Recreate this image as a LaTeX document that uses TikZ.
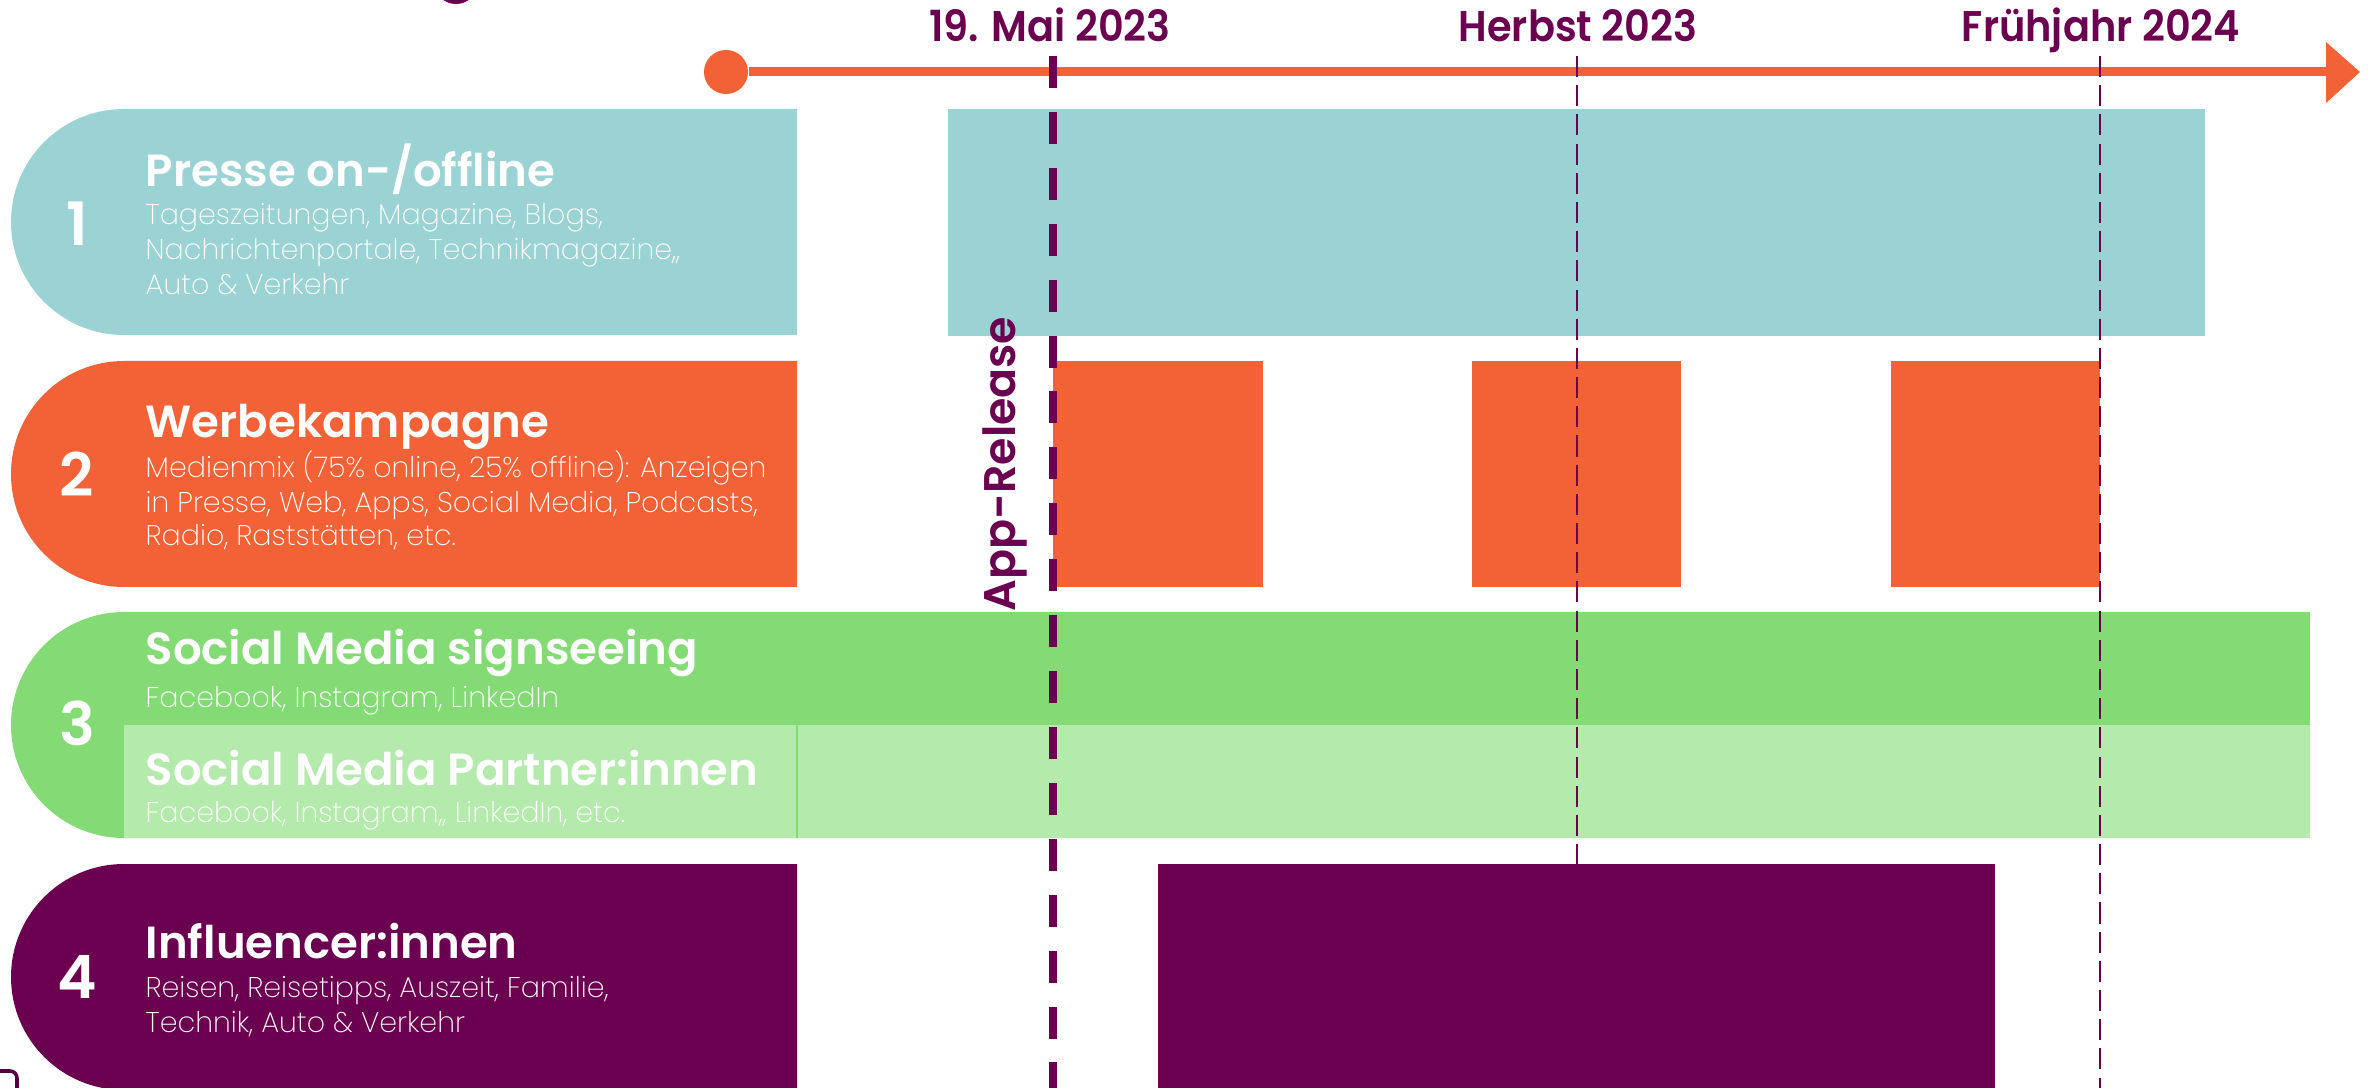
\documentclass[tikz,border=0pt]{standalone}
\usepackage{fontspec}
\setmainfont{Poppins}
\newfontfamily\lightfont{Poppins ExtraLight}
\newfontfamily\semifont{Poppins SemiBold}
\definecolor{cTeal}{RGB}{155,210,211}
\definecolor{cOrange}{RGB}{242,98,54}
\definecolor{cGreen}{RGB}{132,219,118}
\definecolor{cLightGreen}{RGB}{180,234,172}
\definecolor{cPurple}{RGB}{108,0,80}
\begin{document}
\begin{tikzpicture}[x=0.01cm,y=-0.01cm,
  titletxt/.style={anchor=base west, inner sep=0pt, text=white, font=\semifont\fontsize{12.8}{15}\selectfont},
  subtxt/.style={anchor=base west, inner sep=0pt, text=white, font=\lightfont\fontsize{8.1}{9}\selectfont},
  numtxt/.style={anchor=base, inner sep=0pt, text=white, font=\semifont\fontsize{17}{19}\selectfont},
  datetxt/.style={anchor=base, inner sep=0pt, text=cPurple, font=\semifont\fontsize{12.2}{14}\selectfont},
  relline/.style={draw=cPurple, line width=2.28pt, dash pattern=on 9.1pt off 6.8pt},
  thinline/.style={draw=cPurple, line width=0.7pt, dash pattern=on 6pt off 2.3pt},
]
\useasboundingbox (0,0) rectangle (2368,1088);
\fill[white] (0,0) rectangle (2368,1088);

% row 1
\fill[cTeal] (797,109) -- (124,109) arc (270:90:113) -- (797,335) -- cycle;
\fill[cTeal] (948,109) rectangle (2205,336);
% row 2
\fill[cOrange] (797,361) -- (124,361) arc (270:90:113) -- (797,587) -- cycle;
\fill[cOrange] (1053,361) rectangle (1263,587);
\fill[cOrange] (1472,361) rectangle (1681,587);
\fill[cOrange] (1891,361) rectangle (2100,587);
% row 3
\fill[cGreen] (797,612) -- (124,612) arc (270:90:113) -- (797,838) -- cycle;
\fill[cGreen] (797,612) rectangle (2310,725);
\fill[cLightGreen] (124,725) rectangle (2310,838);
\draw[cGreen, line width=0.8pt] (797,725) -- (797,838);
% row 4
\fill[cPurple] (797,864) -- (124,864) arc (270:90:113) -- (797,1090) -- cycle;
\fill[cPurple] (1158,864) rectangle (1995,1090);

% cut-off marks at edges
\fill[cPurple] (456,-18) circle (22);
\draw[cPurple!80!black, line width=1pt, rounded corners=2pt] (-8,1071) rectangle (17,1100);

% time axis
\node[circle, fill=cOrange, minimum size=44*0.2845pt, inner sep=0pt] (start) at (726,72) {};
\coordinate (axisend) at (2330,72);
\draw[cOrange, line width=2.56pt] (start) -- (axisend);
\fill[cOrange] (2326,42) -- (2360,72) -- (2326,103) -- cycle;

% milestone lines
\coordinate (relTop) at (1053,56);
\coordinate (relBot) at (1053,1090);
\coordinate (herbTop) at (1577,56);
\coordinate (herbBot) at (1577,1090);
\coordinate (fruTop) at (2100,56);
\coordinate (fruBot) at (2100,1090);
\draw[relline] (relTop) -- (relBot);
\draw[thinline] (herbTop) -- (herbBot);
\draw[thinline] (fruTop) -- (fruBot);

% dates
\node[datetxt] (d1) at (1050,42) {\scalebox{0.93}[1]{19. Mai 2023}};
\node[datetxt] (d2) at (1578,42) {\scalebox{0.93}[1]{Herbst 2023}};
\node[datetxt] (d3) at (2101,42) {\scalebox{0.93}[1]{Frühjahr 2024}};
\node[rotate=90, anchor=base west, inner sep=0pt, text=cPurple, font=\semifont\fontsize{12.6}{14}\selectfont] (rel) at (1015,612) {App-Release};

% texts
\node[numtxt] (n1) at (77,246) {1};
\node[titletxt] (t1) at (145,187) {Presse on-/offline};
\node[subtxt] (s1a) at (145,225) {Tageszeitungen, Magazine, Blogs,};
\node[subtxt] (s1b) at (145,260) {Nachrichtenportale, Technikmagazine,,};
\node[subtxt] (s1c) at (145,295) {Auto \& Verkehr};

\node[numtxt] (n2) at (77,497) {2};
\node[titletxt] (t2) at (145,438) {Werbekampagne};
\node[subtxt] (s2a) at (145,478) {Medienmix (75\% online, 25\% offline): Anzeigen};
\node[subtxt] (s2b) at (145,512) {in Presse, Web, Apps, Social Media, Podcasts,};
\node[subtxt] (s2c) at (145,546) {Radio, Raststätten, etc.};

\node[numtxt] (n3) at (77,745) {3};
\node[titletxt] (t3a) at (145,665) {Social Media signseeing};
\node[subtxt] (s3a) at (145,708) {Facebook, Instagram, LinkedIn};
\node[titletxt] (t3b) at (145,785) {Social Media Partner:innen};
\node[subtxt] (s3b) at (145,822) {Facebook, Instagram,, LinkedIn, etc.};

\node[numtxt] (n4) at (77,998) {4};
\node[titletxt] (t4) at (145,958) {Influencer:innen};
\node[subtxt] (s4a) at (145,997) {Reisen, Reisetipps, Auszeit, Familie,};
\node[subtxt] (s4b) at (145,1032) {Technik, Auto \& Verkehr};
\end{tikzpicture}
\end{document}
